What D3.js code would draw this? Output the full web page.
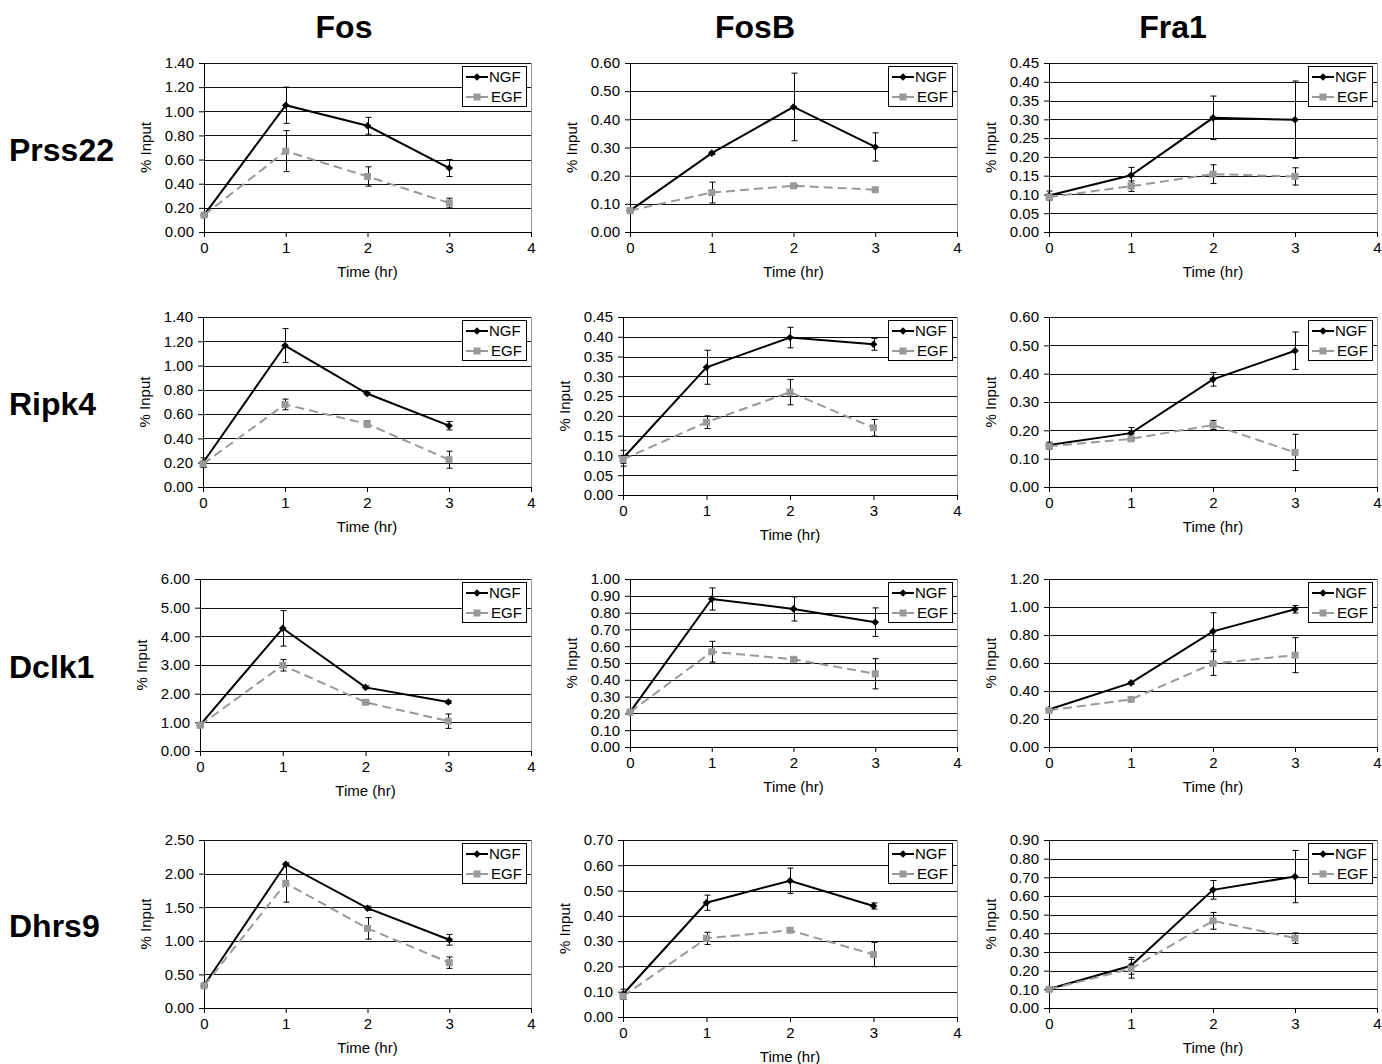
<!DOCTYPE html>
<html>
<head>
<meta charset="utf-8">
<script src="https://cdn.jsdelivr.net/npm/d3@7"></script>
<style>
body{margin:0;background:#fff;}
text{font-family:"Liberation Sans",Arial,sans-serif;}
</style>
</head>
<body>
<script>
var genes = ["Prss22","Ripk4","Dclk1","Dhrs9"];
var factors = ["Fos","FosB","Fra1"];
var times = [0,1,2,3];
var xTicks = [0,1,2,3,4];
var seriesNames = ["NGF","EGF"];

// y axis max and step, [gene][factor]
var yMax = [[1.4,0.6,0.45],[1.4,0.45,0.6],[6,1,1.2],[2.5,0.7,0.9]];
var yStep = [[0.2,0.1,0.05],[0.2,0.05,0.1],[1,0.1,0.2],[0.5,0.1,0.1]];

// mean % input, [gene][factor][time]
var ngfMean = [
	[[0.14,1.05,0.88,0.53],[0.076,0.28,0.444,0.302],[0.097,0.151,0.304,0.299]],
	[[0.20,1.165,0.77,0.505],[0.093,0.323,0.398,0.381],[0.148,0.19,0.38,0.481]],
	[[0.90,4.28,2.22,1.71],[0.208,0.881,0.822,0.743],[0.268,0.458,0.826,0.984]],
	[[0.335,2.14,1.485,1.015],[0.09,0.452,0.539,0.439],[0.102,0.226,0.633,0.704]]
];
var ngfErr = [
	[[0.01,0.15,0.07,0.07],[0.005,0.005,0.12,0.05],[0.012,0.021,0.058,0.103]],
	[[0.04,0.14,0.01,0.035],[0.02,0.043,0.026,0.015],[0.01,0.02,0.024,0.066]],
	[[0.05,0.62,0.05,0.05],[0.01,0.066,0.072,0.085],[0.01,0.01,0.133,0.027]],
	[[0.02,0.02,0.03,0.08],[0.02,0.03,0.05,0.012],[0.01,0.045,0.05,0.14]]
];
var egfMean = [
	[[0.14,0.67,0.46,0.24],[0.076,0.14,0.164,0.15],[0.093,0.122,0.154,0.148]],
	[[0.19,0.68,0.52,0.225],[0.09,0.184,0.26,0.17],[0.144,0.17,0.219,0.122]],
	[[0.90,2.99,1.70,1.04],[0.208,0.567,0.522,0.436],[0.262,0.34,0.596,0.656]],
	[[0.33,1.855,1.185,0.675],[0.082,0.311,0.343,0.247],[0.10,0.21,0.467,0.374]]
];
var egfErr = [
	[[0.01,0.17,0.08,0.04],[0.005,0.037,0.004,0.004],[0.006,0.014,0.025,0.023]],
	[[0.02,0.044,0.025,0.07],[0.01,0.016,0.032,0.021],[0.01,0.005,0.016,0.064]],
	[[0.05,0.2,0.05,0.25],[0.01,0.062,0.01,0.09],[0.01,0.01,0.085,0.125]],
	[[0.02,0.28,0.16,0.085],[0.01,0.024,0.008,0.048],[0.01,0.05,0.045,0.028]]
];

// panel placement
var plotLeft = [[204,630,1049],[203,623,1049],[200,630,1049],[204,623,1049]];
var plotRight = [531,957,1377];
var plotTop = [63,317,579,840];
var plotBottom = [[232,232,232],[487,495,487],[751,747,747],[1008,1017,1008]];
var titleX = [344,755,1173];

var grey = "#999999";

var svg = d3.select("body").append("svg").attr("width",1382).attr("height",1064);

factors.forEach(function(f,c){
	svg.append("text").attr("x",titleX[c]).attr("y",38)
		.attr("text-anchor","middle").attr("font-size",32).attr("font-weight","bold").text(f);
});
genes.forEach(function(g,r){
	var mid = (plotTop[r]+plotBottom[r][0])/2;
	svg.append("text").attr("x",9).attr("y",mid+13)
		.attr("font-size",32).attr("font-weight","bold").text(g);
});

function diamond(s){
	return "M0,"+(-s)+"L"+s+",0L0,"+s+"L"+(-s)+",0Z";
}

function drawSeries(g,x,y,mean,err,color,dash,shape){
	var pts = times.map(function(t,i){ return {t:t,v:mean[i],e:err[i]}; });
	var line = d3.line().x(function(d){return x(d.t);}).y(function(d){return y(d.v);});
	g.append("path").datum(pts).attr("d",line).attr("fill","none")
		.attr("stroke",color).attr("stroke-width",2).attr("stroke-dasharray",dash);
	var eb = g.append("g").attr("stroke","#000").attr("stroke-width",1);
	pts.forEach(function(d){
		var cx = Math.round(x(d.t))+0.5, y1 = y(d.v+d.e), y2 = y(d.v-d.e);
		eb.append("line").attr("x1",cx).attr("x2",cx).attr("y1",y1).attr("y2",y2);
		eb.append("line").attr("x1",cx-3).attr("x2",cx+3).attr("y1",y1).attr("y2",y1);
		eb.append("line").attr("x1",cx-3).attr("x2",cx+3).attr("y1",y2).attr("y2",y2);
	});
	g.selectAll(null).data(pts).enter().append("path")
		.attr("transform",function(d){return "translate("+x(d.t)+","+y(d.v)+")";})
		.attr("d",shape==="diamond" ? diamond(3.8) : "M-3.5,-3.5h7v7h-7Z")
		.attr("fill",color);
}

genes.forEach(function(gene,r){
	factors.forEach(function(fac,c){
		var left = plotLeft[r][c], right = plotRight[c], top = plotTop[r], bottom = plotBottom[r][c];
		var x = d3.scaleLinear().domain([0,4]).range([left,right]);
		var y = d3.scaleLinear().domain([0,yMax[r][c]]).range([bottom,top]);
		var yTicks = d3.range(0,yMax[r][c]+yStep[r][c]/2,yStep[r][c]);
		var g = svg.append("g");

		// grid
		g.selectAll(null).data(yTicks.slice(1)).enter().append("line")
			.attr("x1",left).attr("x2",right)
			.attr("y1",function(d){return Math.round(y(d))+0.5;})
			.attr("y2",function(d){return Math.round(y(d))+0.5;})
			.attr("stroke","#111").attr("stroke-width",1);
		g.append("line").attr("x1",right+0.5).attr("x2",right+0.5).attr("y1",top).attr("y2",bottom)
			.attr("stroke",grey).attr("stroke-width",1);

		var ya = g.append("g").attr("transform","translate("+Math.round(left)+",0)")
			.call(d3.axisLeft(y).tickValues(yTicks).tickFormat(d3.format(".2f")).tickSize(5).tickSizeOuter(0).tickPadding(5));
		var xa = g.append("g").attr("transform","translate(0,"+Math.round(bottom)+")")
			.call(d3.axisBottom(x).tickValues(xTicks).tickFormat(d3.format("d")).tickSize(5).tickSizeOuter(0).tickPadding(5));
		[ya,xa].forEach(function(a){
			a.selectAll("text").attr("font-size",15).attr("font-family","'Liberation Sans',Arial,sans-serif").attr("fill","#000");
			a.selectAll("line,path").attr("stroke","#000");
		});

		g.append("text").attr("transform","translate("+(left-53)+","+((top+bottom)/2)+") rotate(-90)")
			.attr("text-anchor","middle").attr("font-size",15).text("% Input");
		g.append("text").attr("x",(left+right)/2).attr("y",bottom+45)
			.attr("text-anchor","middle").attr("font-size",15).text("Time (hr)");

		drawSeries(g,x,y,ngfMean[r][c],ngfErr[r][c],"#000",null,"diamond");
		drawSeries(g,x,y,egfMean[r][c],egfErr[r][c],grey,"9,5","square");

		// legend
		var lw = 64, lh = 40, lx = right-5-lw, ly = top+3;
		var lg = g.append("g").attr("transform","translate("+lx+","+ly+")");
		lg.append("rect").attr("x",0.5).attr("y",0.5).attr("width",lw).attr("height",lh)
			.attr("fill","#fff").attr("stroke","#000");
		seriesNames.forEach(function(s,i){
			var yy = 11+i*20, col = i===0 ? "#000" : grey;
			lg.append("line").attr("x1",4).attr("x2",26).attr("y1",yy).attr("y2",yy)
				.attr("stroke",col).attr("stroke-width",2).attr("stroke-dasharray",i===0 ? null : "9,5");
			lg.append("path").attr("transform","translate(15,"+yy+")")
				.attr("d",i===0 ? diamond(3.8) : "M-3.5,-3.5h7v7h-7Z").attr("fill",col);
			lg.append("text").attr("x",i===0 ? 27 : 29).attr("y",yy+5).attr("font-size",15).text(s);
		});
	});
});
</script>
</body>
</html>
